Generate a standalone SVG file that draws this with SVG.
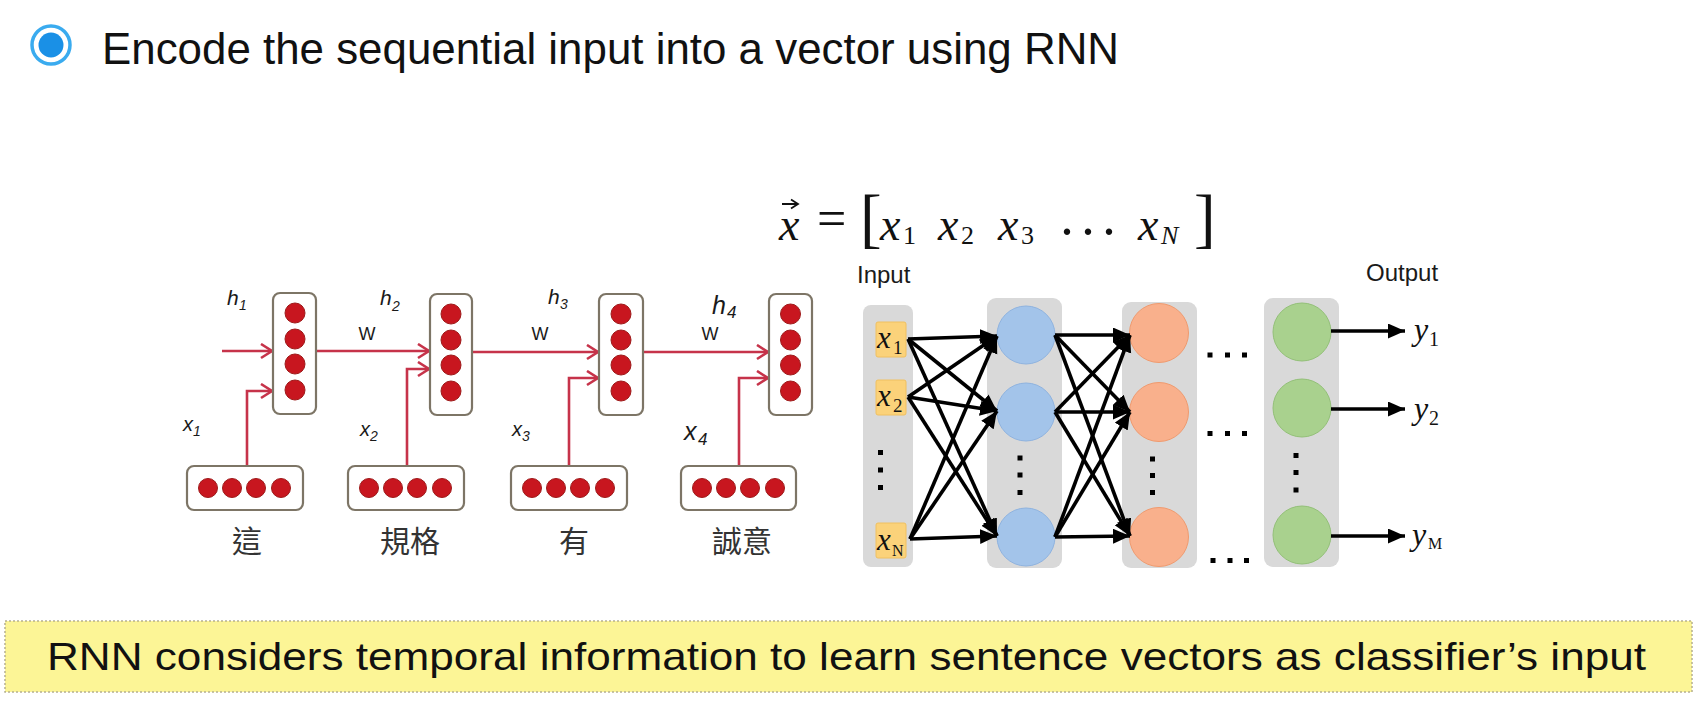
<svg xmlns="http://www.w3.org/2000/svg" width="1704" height="708" viewBox="0 0 1704 708">
<style>
.title{font-family:"Liberation Sans",Arial,sans-serif;font-size:44px;fill:#111}
.banner{font-family:"Liberation Sans",Arial,sans-serif;font-size:39px;fill:#111}
.lbl{font-family:"Liberation Sans",Arial,sans-serif;fill:#1a1a1a}
.it{font-style:italic}
.cjk{font-family:"Noto Sans CJK TC","Noto Sans CJK SC",sans-serif;font-size:30px;fill:#333;text-anchor:middle}
.math{font-family:"Liberation Serif","Times New Roman",serif;fill:#111}
.hbox{fill:#fff;stroke:#7d7566;stroke-width:2.2}
.rdot{fill:#c8161f;stroke:#9e1a1a;stroke-width:1}
.rline{fill:none;stroke:#c6334a;stroke-width:2.6}
.col{fill:#d9d9d9}
.inbox{fill:#fbd27a;stroke:#f0c060;stroke-width:1}
.blue{fill:#a3c4ea;stroke:#8fb3df;stroke-width:1}
.orange{fill:#f9b08c;stroke:#f09a6e;stroke-width:1}
.green{fill:#a9d18e;stroke:#93c078;stroke-width:1}
.bline{fill:none;stroke:#000;stroke-width:3.6}
.sq{fill:#000}
</style>
<defs>
<marker id="rarrow" markerUnits="userSpaceOnUse" markerWidth="16" markerHeight="18" refX="12" refY="8" orient="auto">
<path d="M1,1 L12,8 L1,15" fill="none" stroke="#c6334a" stroke-width="2.6"/>
</marker>
<marker id="barrow" markerUnits="userSpaceOnUse" markerWidth="18" markerHeight="16" refX="17" refY="7.5" orient="auto">
<path d="M0,0 L17,7.5 L0,15 z" fill="#000"/>
</marker>
</defs>

<g id="title">
<circle cx="51" cy="45" r="19" fill="#fff" stroke="#3aabef" stroke-width="3.5"/>
<circle cx="51" cy="45" r="12.5" fill="#1a90e6"/>
<text class="title" x="102" y="64" textLength="1017" lengthAdjust="spacingAndGlyphs">Encode the sequential input into a vector using RNN</text>
</g>

<g id="rnn-connectors">
<path class="rline" d="M222,351 L272,351" marker-end="url(#rarrow)"/>
<path class="rline" d="M316,351 L429,351" marker-end="url(#rarrow)"/>
<path class="rline" d="M472,352 L598,352" marker-end="url(#rarrow)"/>
<path class="rline" d="M643,352 L768,352" marker-end="url(#rarrow)"/>
<path class="rline" d="M247,466 V391 H272" marker-end="url(#rarrow)"/>
<path class="rline" d="M407,466 V369 H429" marker-end="url(#rarrow)"/>
<path class="rline" d="M569,466 V378 H598" marker-end="url(#rarrow)"/>
<path class="rline" d="M739,466 V378 H768" marker-end="url(#rarrow)"/>
</g>

<g id="h1">
<rect class="hbox" x="273" y="293" width="43" height="121" rx="7"/>
<circle class="rdot" cx="295" cy="313" r="10"/><circle class="rdot" cx="295" cy="339" r="10"/><circle class="rdot" cx="295" cy="364" r="10"/><circle class="rdot" cx="295" cy="390" r="10"/>
<text class="lbl it" x="227" y="305" font-size="21">h</text><text class="lbl it" x="239" y="310" font-size="14">1</text>
</g>
<g id="h2">
<rect class="hbox" x="430" y="294" width="42" height="121" rx="7"/>
<circle class="rdot" cx="451" cy="314" r="10"/><circle class="rdot" cx="451" cy="340" r="10"/><circle class="rdot" cx="451" cy="365" r="10"/><circle class="rdot" cx="451" cy="391" r="10"/>
<text class="lbl it" x="380" y="305" font-size="21">h</text><text class="lbl it" x="392" y="311" font-size="14">2</text>
</g>
<g id="h3">
<rect class="hbox" x="599" y="294" width="44" height="121" rx="7"/>
<circle class="rdot" cx="621" cy="314" r="10"/><circle class="rdot" cx="621" cy="340" r="10"/><circle class="rdot" cx="621" cy="365" r="10"/><circle class="rdot" cx="621" cy="391" r="10"/>
<text class="lbl it" x="548" y="304" font-size="21">h</text><text class="lbl it" x="560" y="309" font-size="14">3</text>
</g>
<g id="h4">
<rect class="hbox" x="769" y="294" width="43" height="121" rx="7"/>
<circle class="rdot" cx="790.5" cy="314" r="10"/><circle class="rdot" cx="790.5" cy="340" r="10"/><circle class="rdot" cx="790.5" cy="365" r="10"/><circle class="rdot" cx="790.5" cy="391" r="10"/>
<text class="lbl it" x="712" y="314" font-size="25">h</text><text class="lbl it" x="727" y="318" font-size="17">4</text>
</g>
<g id="w-labels">
<text class="lbl" x="367" y="340" font-size="18" text-anchor="middle">W</text>
<text class="lbl" x="540" y="340" font-size="18" text-anchor="middle">W</text>
<text class="lbl" x="710" y="340" font-size="18" text-anchor="middle">W</text>
</g>

<g id="x1">
<rect class="hbox" x="187" y="466" width="116" height="44" rx="7"/>
<circle class="rdot" cx="208" cy="488" r="9.5"/><circle class="rdot" cx="232" cy="488" r="9.5"/><circle class="rdot" cx="256" cy="488" r="9.5"/><circle class="rdot" cx="281" cy="488" r="9.5"/>
<text class="lbl it" x="183" y="431" font-size="20">x</text><text class="lbl it" x="193" y="436" font-size="14">1</text>
<text class="cjk" x="247" y="552">這</text>
</g>
<g id="x2">
<rect class="hbox" x="348" y="466" width="116" height="44" rx="7"/>
<circle class="rdot" cx="369" cy="488" r="9.5"/><circle class="rdot" cx="393" cy="488" r="9.5"/><circle class="rdot" cx="417" cy="488" r="9.5"/><circle class="rdot" cx="442" cy="488" r="9.5"/>
<text class="lbl it" x="360" y="436" font-size="20">x</text><text class="lbl it" x="370" y="441" font-size="14">2</text>
<text class="cjk" x="410" y="552">規格</text>
</g>
<g id="x3">
<rect class="hbox" x="511" y="466" width="116" height="44" rx="7"/>
<circle class="rdot" cx="532" cy="488" r="9.5"/><circle class="rdot" cx="556" cy="488" r="9.5"/><circle class="rdot" cx="580" cy="488" r="9.5"/><circle class="rdot" cx="605" cy="488" r="9.5"/>
<text class="lbl it" x="512" y="436" font-size="20">x</text><text class="lbl it" x="522" y="441" font-size="14">3</text>
<text class="cjk" x="574" y="552">有</text>
</g>
<g id="x4">
<rect class="hbox" x="681" y="466" width="115" height="44" rx="7"/>
<circle class="rdot" cx="702" cy="488" r="9.5"/><circle class="rdot" cx="726" cy="488" r="9.5"/><circle class="rdot" cx="750" cy="488" r="9.5"/><circle class="rdot" cx="775" cy="488" r="9.5"/>
<text class="lbl it" x="684" y="440" font-size="25">x</text><text class="lbl it" x="698" y="445" font-size="17">4</text>
<text class="cjk" x="742" y="552">誠意</text>
</g>

<g id="formula">
<text class="math it" x="779" y="240" font-size="46">x</text>
<path d="M782,204 H797 M791,199.5 L798,204 L791,208.5" fill="none" stroke="#111" stroke-width="1.8"/>
<text class="math" x="817" y="236" font-size="52">=</text>
<text class="math" x="860" y="240" font-size="65">[</text>
<text class="math it" x="880" y="240" font-size="46">x</text><text class="math" x="903" y="244" font-size="26">1</text>
<text class="math it" x="938" y="240" font-size="46">x</text><text class="math" x="961" y="244" font-size="26">2</text>
<text class="math it" x="998" y="240" font-size="46">x</text><text class="math" x="1021" y="244" font-size="26">3</text>
<text class="math" x="1058 1079 1100" y="250" font-size="54">···</text>
<text class="math it" x="1138" y="240" font-size="46">x</text><text class="math it" x="1161" y="244" font-size="26">N</text>
<text class="math" x="1194" y="240" font-size="65">]</text>
</g>

<g id="input-layer">
<text class="lbl" x="857" y="283" font-size="24">Input</text>
<rect class="col" x="863" y="305" width="50" height="262" rx="8"/>
<rect class="inbox" x="876" y="322" width="30" height="35" rx="2"/>
<rect class="inbox" x="876" y="380" width="30" height="35" rx="2"/>
<rect class="inbox" x="876" y="523" width="30" height="35" rx="2"/>
<text class="math it" x="877" y="348" font-size="31">x</text><text class="math" x="893" y="354" font-size="19">1</text>
<text class="math it" x="877" y="406" font-size="31">x</text><text class="math" x="893" y="412" font-size="19">2</text>
<text class="math it" x="877" y="550" font-size="31">x</text><text class="math" x="892" y="556" font-size="16">N</text>
<rect class="sq" x="878" y="450" width="5" height="5"/><rect class="sq" x="878" y="467.5" width="5" height="5"/><rect class="sq" x="878" y="485" width="5" height="5"/>
</g>

<g id="hidden-layer-1">
<rect class="col" x="987" y="298" width="75" height="270" rx="9"/>
<circle class="blue" cx="1026" cy="335" r="29"/>
<circle class="blue" cx="1026" cy="412" r="29"/>
<circle class="blue" cx="1026" cy="537" r="29"/>
<rect class="sq" x="1017.5" y="455.5" width="5" height="5"/><rect class="sq" x="1017.5" y="472.5" width="5" height="5"/><rect class="sq" x="1017.5" y="490" width="5" height="5"/>
</g>

<g id="hidden-layer-2">
<rect class="col" x="1122" y="302" width="75" height="266" rx="9"/>
<circle class="orange" cx="1159" cy="333" r="29.5"/>
<circle class="orange" cx="1159" cy="412" r="29.5"/>
<circle class="orange" cx="1159" cy="537" r="29.5"/>
<rect class="sq" x="1150" y="456.5" width="5" height="5"/><rect class="sq" x="1150" y="473" width="5" height="5"/><rect class="sq" x="1150" y="490" width="5" height="5"/>
</g>

<g id="ellipsis-dots">
<rect class="sq" x="1207.5" y="352.5" width="5" height="5"/><rect class="sq" x="1225" y="352.5" width="5" height="5"/><rect class="sq" x="1242" y="352.5" width="5" height="5"/>
<rect class="sq" x="1207.5" y="431" width="5" height="5"/><rect class="sq" x="1225" y="431" width="5" height="5"/><rect class="sq" x="1242" y="431" width="5" height="5"/>
<rect class="sq" x="1210.5" y="558" width="5" height="5"/><rect class="sq" x="1227.5" y="558" width="5" height="5"/><rect class="sq" x="1244" y="558" width="5" height="5"/>
</g>

<g id="output-layer">
<text class="lbl" x="1366" y="281" font-size="24">Output</text>
<rect class="col" x="1264" y="298" width="75" height="269" rx="9"/>
<circle class="green" cx="1302" cy="332" r="29"/>
<circle class="green" cx="1302" cy="408" r="29"/>
<circle class="green" cx="1302" cy="535" r="29"/>
<rect class="sq" x="1293.5" y="453" width="5" height="5"/><rect class="sq" x="1293.5" y="470" width="5" height="5"/><rect class="sq" x="1293.5" y="487.5" width="5" height="5"/>
<text class="math it" x="1414" y="340" font-size="32">y</text><text class="math" x="1429" y="346" font-size="20">1</text>
<text class="math it" x="1414" y="419" font-size="32">y</text><text class="math" x="1429" y="425" font-size="20">2</text>
<text class="math it" x="1412" y="545" font-size="32">y</text><text class="math" x="1428" y="549" font-size="16">M</text>
</g>

<g id="nn-connectors">
<path class="bline" d="M908,339 L997,336" marker-end="url(#barrow)"/>
<path class="bline" d="M908,339 L997,411" marker-end="url(#barrow)"/>
<path class="bline" d="M908,339 L997,536" marker-end="url(#barrow)"/>
<path class="bline" d="M908,397 L997,336" marker-end="url(#barrow)"/>
<path class="bline" d="M908,397 L997,411" marker-end="url(#barrow)"/>
<path class="bline" d="M908,397 L997,536" marker-end="url(#barrow)"/>
<path class="bline" d="M910,539 L997,336" marker-end="url(#barrow)"/>
<path class="bline" d="M910,539 L997,411" marker-end="url(#barrow)"/>
<path class="bline" d="M910,539 L997,536" marker-end="url(#barrow)"/>
<path class="bline" d="M1055,335 L1130,335" marker-end="url(#barrow)"/>
<path class="bline" d="M1055,335 L1130,412" marker-end="url(#barrow)"/>
<path class="bline" d="M1055,335 L1130,536" marker-end="url(#barrow)"/>
<path class="bline" d="M1055,412 L1130,335" marker-end="url(#barrow)"/>
<path class="bline" d="M1055,412 L1130,412" marker-end="url(#barrow)"/>
<path class="bline" d="M1055,412 L1130,536" marker-end="url(#barrow)"/>
<path class="bline" d="M1055,537 L1130,335" marker-end="url(#barrow)"/>
<path class="bline" d="M1055,537 L1130,412" marker-end="url(#barrow)"/>
<path class="bline" d="M1055,537 L1130,536" marker-end="url(#barrow)"/>
<path class="bline" d="M1331,331 L1405,331" marker-end="url(#barrow)"/>
<path class="bline" d="M1331,409 L1405,409" marker-end="url(#barrow)"/>
<path class="bline" d="M1331,536 L1405,536" marker-end="url(#barrow)"/>
</g>

<g id="banner">
<rect x="5" y="621" width="1687" height="71" fill="#fcf596" stroke="#b5b090" stroke-width="1.5" stroke-dasharray="2,2"/>
<text class="banner" x="47" y="670" textLength="1599" lengthAdjust="spacingAndGlyphs">RNN considers temporal information to learn sentence vectors as classifier’s input</text>
</g>
</svg>
